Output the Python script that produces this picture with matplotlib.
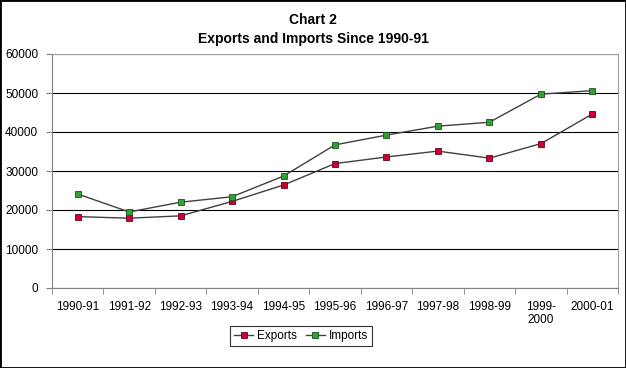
import matplotlib
matplotlib.use("Agg")
import matplotlib.pyplot as plt
import numpy as np

plt.rcParams['font.family'] = ['Liberation Sans', 'DejaVu Sans']

categories = ["1990-91", "1991-92", "1992-93", "1993-94", "1994-95", "1995-96",
              "1996-97", "1997-98", "1998-99", "1999-\n2000", "2000-01"]
exports = [18300, 17900, 18500, 22200, 26400, 31900, 33600, 35100, 33300, 37000, 44600]
imports = [24100, 19500, 22000, 23400, 28700, 36700, 39200, 41500, 42500, 49700, 50600]
yticks = [0, 10000, 20000, 30000, 40000, 50000, 60000]

fig = plt.figure(figsize=(6.26, 3.68), dpi=100)
fig.patch.set_facecolor('white')
# outer border
fig.add_artist(plt.Rectangle((0, 0), 1, 1, transform=fig.transFigure, fill=False,
                             edgecolor='black', linewidth=2))

ax = fig.add_axes([52/626, 1-288/368, 566/626, 234/368])
x = np.arange(len(categories))
ax.plot(x, exports, color='#404040', linewidth=1, marker='s', markersize=4.5,
        markerfacecolor='#cc0033', markeredgecolor='#660020', markeredgewidth=0.6, label='Exports')
ax.plot(x, imports, color='#404040', linewidth=1, marker='s', markersize=4.5,
        markerfacecolor='#33a033', markeredgecolor='#1a501a', markeredgewidth=0.6, label='Imports')

ax.set_xlim(-0.5, len(categories) - 0.5)
ax.set_ylim(0, 60000)
ax.set_yticks(yticks)
ax.set_yticklabels([str(v) for v in yticks], fontsize=8.5)
ax.set_xticks(x)
ax.set_xticklabels(categories, fontsize=8.5)
ax.set_xticks(np.arange(-0.5, len(categories)), minor=True)
ax.tick_params(axis='x', which='major', length=0, pad=9)
ax.tick_params(axis='x', which='minor', length=4, direction='out', color='#808080')
ax.tick_params(axis='y', length=4, direction='out', color='#808080', pad=6)
ax.grid(axis='y', color='black', linewidth=0.8)
for s in ['left', 'bottom']:
    ax.spines[s].set_color('#808080')
for s in ['top', 'right']:
    ax.spines[s].set_color('#a0a0a0')

fig.text(0.5, 1-20/368, "Chart 2", ha='center', va='center', fontsize=10, fontweight='bold')
fig.text(0.5, 1-39/368, "Exports and Imports Since 1990-91", ha='center', va='center',
         fontsize=10, fontweight='bold')

leg = fig.legend(loc='center', bbox_to_anchor=(301/626, 1-336/368), ncol=2, fontsize=8.5,
                 frameon=True, fancybox=False, edgecolor='black', handlelength=1.6,
                 columnspacing=0.8, handletextpad=0.3, borderpad=0.35)
leg.get_frame().set_linewidth(0.8)

fig.savefig("out.png", dpi=100)
